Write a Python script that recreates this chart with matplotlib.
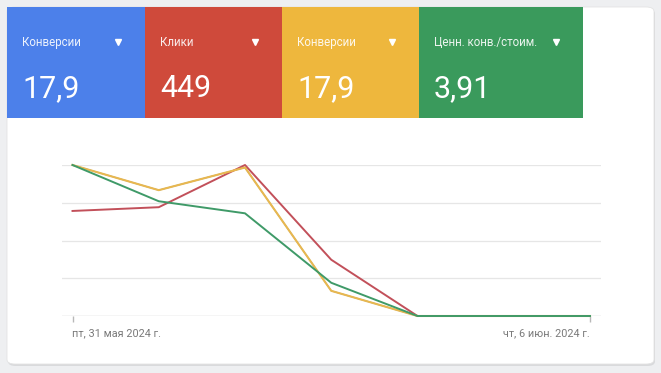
import matplotlib
matplotlib.use("Agg")
import matplotlib.pyplot as plt
from matplotlib.patches import FancyBboxPatch, Rectangle
from matplotlib.lines import Line2D

W, H = 661, 373

# ---- data ----
dates = ["пт, 31 мая 2024 г.", "сб, 1 июн. 2024 г.", "вс, 2 июн. 2024 г.", "пн, 3 июн. 2024 г.",
         "вт, 4 июн. 2024 г.", "ср, 5 июн. 2024 г.", "чт, 6 июн. 2024 г."]
tile_labels = ["Конверсии", "Клики", "Конверсии", "Ценн. конв./стоим."]
tile_values = ["17,9", "449", "17,9", "3,91"]
conversions = [6.0, 5.0, 5.9, 1.0, 0, 0, 0]
clicks = [112, 116, 161, 60, 0, 0, 0]
conv_value_cost = [5.0, 3.8, 3.4, 1.1, 0, 0, 0]

tile_colors = ["#4c80ea", "#cf4a3b", "#eeb73d", "#3a9a5c"]
line_colors = ["#4c80ea", "#c2505a", "#e9b84e", "#3f9a68"]
line_widths = [0.9, 1.4, 1.5, 1.4]

plt.rcParams['font.family'] = ['Roboto', 'DejaVu Sans']

fig = plt.figure(figsize=(W / 100, H / 100), dpi=100)
fig.patch.set_facecolor("#eeeff1")

def fx(x):
    return x / W

def fy(y):
    return 1 - y / H

# card with shadow
shadow = FancyBboxPatch((fx(8), fy(366)), fx(647), (366 - 9) / H,
                        boxstyle="round,pad=0,rounding_size=0.012",
                        transform=fig.transFigure, facecolor="#d9dadc", edgecolor="none", zorder=-3)
fig.add_artist(shadow)
card = FancyBboxPatch((fx(7), fy(364)), fx(647), (364 - 7) / H,
                      boxstyle="round,pad=0,rounding_size=0.012",
                      transform=fig.transFigure, facecolor="white", edgecolor="#e3e3e3",
                      linewidth=0.6, zorder=-2)
fig.add_artist(card)

# tiles
tile_edges = [7, 145, 282, 419, 583]
tri_x = [118, 255, 392, 556]
for i in range(4):
    x0, x1 = tile_edges[i], tile_edges[i + 1]
    fig.add_artist(Rectangle((fx(x0), fy(118)), fx(x1 - x0), (118 - 7) / H,
                             transform=fig.transFigure, facecolor=tile_colors[i],
                             edgecolor="none", zorder=1))
    fig.text(fx(x0 + 15), fy(46), tile_labels[i], color=(1, 1, 1, 0.9), fontsize=8.3,
             va="baseline", ha="left", zorder=2)
    fig.text(fx(x0 + 15), fy(97), tile_values[i], color="white", fontsize=22,
             va="baseline", ha="left", zorder=2)
    fig.add_artist(Line2D([fx(tri_x[i])], [fy(42)], marker="v", markersize=4,
                          color="white", linestyle="none", transform=fig.transFigure,
                          zorder=2))

# chart axes
left_px, right_px = 62, 601
top_px, bot_px = 165, 316
ax = fig.add_axes([fx(left_px), fy(bot_px), fx(right_px - left_px), (bot_px - top_px) / H])
ax.set_facecolor("none")
x = list(range(len(dates)))
x0_px, x6_px = 72.5, 590
unit = (x6_px - x0_px) / 6
ax.set_xlim(-(x0_px - left_px) / unit, 6 + (right_px - x6_px) / unit)
ax.set_ylim(0, 1)
for g in [0.25, 0.5, 0.75, 1.0]:
    ax.axhline(g, color="#e6e6e6", linewidth=0.9, zorder=0)
ax.axhline(0, color="#d0d0d0", linewidth=1.0, zorder=0)
for s in ax.spines.values():
    s.set_visible(False)
ax.set_yticks([])
ax.set_xticks([0, 6])
ax.set_xticklabels([dates[0], dates[6]], fontsize=7.8, color="#7a7a7a")
ax.tick_params(axis="x", length=4, color="#b8b8b8", width=1.0, pad=5)
for lbl, ha in zip(ax.get_xticklabels(), ["left", "right"]):
    lbl.set_ha(ha)

series = [conversions, clicks, conversions, conv_value_cost]
for vals, col, lw in zip(series, line_colors, line_widths):
    a = ax.twinx()
    a.set_ylim(0, max(vals))
    a.set_xlim(ax.get_xlim())
    a.axis("off")
    a.plot(x, vals, color=col, linewidth=lw, clip_on=False, solid_joinstyle="round")

fig.savefig("out.png", dpi=100, facecolor=fig.get_facecolor())
